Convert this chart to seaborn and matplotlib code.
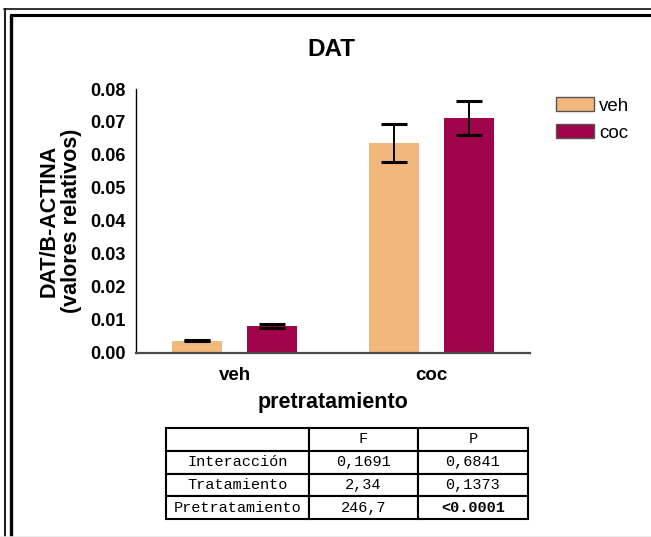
import matplotlib
matplotlib.use("Agg")
import matplotlib.pyplot as plt
from matplotlib.lines import Line2D
from matplotlib.patches import Patch
from matplotlib.ticker import FormatStrFormatter, MultipleLocator
import numpy as np
import pandas as pd
import seaborn as sns

# Group means and SEM of DAT/B-actin expression
pretratamiento = ["veh", "veh", "coc", "coc"]
tratamiento = ["veh", "coc", "veh", "coc"]
valor = [0.0037, 0.0080, 0.0636, 0.0712]
sem = [0.0001, 0.0006, 0.0058, 0.0052]

grupos_x = ["veh", "coc"]
grupos_hue = ["veh", "coc"]
colores = ["#F2B77C", "#A0044A"]

# Two-way ANOVA summary
tabla_cols = ["", "F", "P"]
tabla_filas = ["Interacción", "Tratamiento", "Pretratamiento"]
tabla_F = ["0,1691", "2,34", "246,7"]
tabla_P = ["0,6841", "0,1373", "<0.0001"]

sns.set_style("white")
plt.rcParams["font.family"] = ["Liberation Sans", "DejaVu Sans"]
plt.rcParams["text.color"] = "black"
plt.rcParams["axes.labelcolor"] = "black"
plt.rcParams["xtick.labelcolor"] = "black"
plt.rcParams["ytick.labelcolor"] = "black"

W, H = 651, 537
fig = plt.figure(figsize=(W / 100, H / 100), dpi=100)
fig.patch.set_facecolor("white")


def fx(px):
    return px / W


def fy(py):
    return 1 - py / H


ax = fig.add_axes([fx(136), fy(352.7), fx(530 - 136), (352.7 - 89) / H])

df = pd.DataFrame({"pretratamiento": pretratamiento,
                   "tratamiento": tratamiento,
                   "valor": valor,
                   "err": sem})

sns.barplot(data=df, x="pretratamiento", y="valor", hue="tratamiento",
            order=grupos_x, hue_order=grupos_hue, palette=colores,
            width=0.76, gap=0.34, errorbar=None, saturation=1,
            linewidth=0, legend=False, ax=ax)

# error bars on the bar centres produced by seaborn
for cont, trat in zip(ax.containers, grupos_hue):
    for bar, pre in zip(cont, grupos_x):
        fila = df[(df["pretratamiento"] == pre) & (df["tratamiento"] == trat)].iloc[0]
        cx = bar.get_x() + bar.get_width() / 2
        ax.errorbar(cx, fila["valor"], yerr=fila["err"], fmt="none", ecolor="black",
                    elinewidth=1.4, capsize=9.5, capthick=2.2, zorder=3)

ax.set_xlim(-0.5, 1.5)
ax.set_ylim(0, 0.08)
ax.yaxis.set_major_locator(MultipleLocator(0.01))
ax.yaxis.set_major_formatter(FormatStrFormatter("%.2f"))

for s in ["top", "right"]:
    ax.spines[s].set_visible(False)
ax.spines["left"].set_color("black")
ax.spines["left"].set_linewidth(1.0)
ax.spines["bottom"].set_color("#4a4a4a")
ax.spines["bottom"].set_linewidth(1.6)

ax.tick_params(axis="y", direction="out", length=6, width=1.0, color="black",
               labelcolor="black", pad=1.5, labelsize=13)
ax.tick_params(axis="x", direction="out", length=7, width=1.4, color="#4a4a4a",
               labelcolor="black", pad=3, labelsize=13.5)
for lab in ax.get_xticklabels() + ax.get_yticklabels():
    lab.set_fontweight("bold")

ax.set_xlabel("pretratamiento", fontsize=15.5, fontweight="bold", labelpad=6,
              color="black")
ax.set_ylabel("DAT/B-ACTINA\n(valores relativos)", fontsize=15.5,
              fontweight="bold", labelpad=6, linespacing=1.05, color="black")
fig.text(fx(331), fy(49), "DAT", fontsize=17.5, fontweight="bold",
         ha="center", va="center", color="black")

handles = [Patch(facecolor=c, edgecolor="#555555", linewidth=1.0) for c in colores]
leg = fig.legend(handles, grupos_hue, loc="upper left",
                 bbox_to_anchor=(fx(556), fy(97)), frameon=False, fontsize=13.5,
                 handlelength=2.0, handleheight=0.8, handletextpad=0.3,
                 labelspacing=0.5, borderpad=0, borderaxespad=0)
for t in leg.get_texts():
    t.set_color("black")

# ANOVA table below the chart
tax = fig.add_axes([fx(166), fy(519), fx(528 - 166), (519 - 428) / H])
tax.axis("off")
celdas = [tabla_cols] + [[r, f, p] for r, f, p in zip(tabla_filas, tabla_F, tabla_P)]
tabla = tax.table(cellText=celdas, cellLoc="center", bbox=[0, 0, 1, 1],
                  colWidths=[143, 109, 110])
tabla.auto_set_font_size(False)
for (r, c), cell in tabla.get_celld().items():
    cell.set_edgecolor("black")
    cell.set_linewidth(1.5)
    t = cell.get_text()
    t.set_fontfamily(["Liberation Mono", "DejaVu Sans Mono"])
    t.set_fontsize(11)
    t.set_color("black")
    if r == 3 and c == 2:
        t.set_fontweight("bold")

# double border along the top and left edges
fig.add_artist(Line2D([fx(4), 1], [fy(9), fy(9)], color="#222222", lw=1.3,
                      transform=fig.transFigure))
fig.add_artist(Line2D([fx(11), 1], [fy(15.3), fy(15.3)], color="black", lw=2.2,
                      transform=fig.transFigure))
fig.add_artist(Line2D([fx(5.2), fx(5.2)], [fy(9), 0], color="#222222", lw=1.5,
                      transform=fig.transFigure))
fig.add_artist(Line2D([fx(11), fx(11)], [fy(15.3), 0], color="black", lw=2.4,
                      transform=fig.transFigure))
fig.add_artist(Line2D([0, 1], [fy(536.5), fy(536.5)], color="#e6e6e6", lw=1.2,
                      transform=fig.transFigure))

fig.savefig("out.png", dpi=100, facecolor="white")
